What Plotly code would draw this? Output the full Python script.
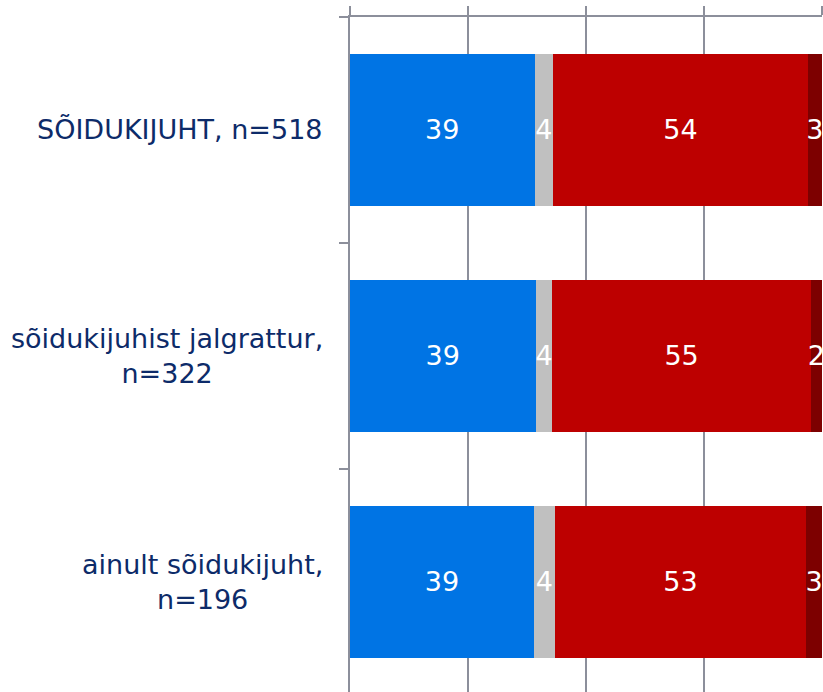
import plotly.graph_objects as go

categories = ["SÕIDUKIJUHT, n=518",
              "sõidukijuhist jalgrattur,<br>n=322",
              "ainult sõidukijuht,<br>n=196"]
series = ["s1", "s2", "s3", "s4"]
values = {
    "s1": [39.1, 39.3, 39.0],
    "s2": [3.9, 3.6, 4.4],
    "s3": [54.0, 54.7, 53.2],
    "s4": [3.0, 2.4, 3.4],
}
colors = {"s1": "#0074e4", "s2": "#c0c0c0", "s3": "#bd0000", "s4": "#7d0000"}
x_ticks = [0, 25, 50, 75, 100]

font_family = "DejaVu Sans"
navy = "#0d2b69"
line_gray = "#8c8f9b"

ypos = list(range(len(categories)))
# category separators for the y ticks
y_bounds = [i - 0.5 for i in range(len(categories) + 1)]

fig = go.Figure()
for s in series:
    fig.add_trace(go.Bar(
        x=values[s], y=ypos, orientation="h",
        marker=dict(color=colors[s], line=dict(width=0)),
        texttemplate="%{x:.0f}", textposition="inside",
        insidetextanchor="middle", constraintext="none", textangle=0,
        textfont=dict(family=font_family, size=27, color="white"),
        showlegend=False, cliponaxis=False,
    ))

for i, c in enumerate(categories):
    fig.add_annotation(x=-0.053, xref="paper", xanchor="right",
                       y=i, yref="y", text=c, showarrow=False, align="center",
                       font=dict(family=font_family, size=27, color=navy))

fig.update_layout(
    barmode="stack", bargap=0.33,
    width=823, height=692,
    margin=dict(l=350, r=1, t=17, b=0),
    paper_bgcolor="white", plot_bgcolor="rgba(0,0,0,0)",
    xaxis=dict(range=[0, 100], side="top", tickvals=x_ticks,
               showticklabels=False, ticks="outside", ticklen=9,
               tickwidth=2, tickcolor=line_gray,
               showgrid=True, gridcolor=line_gray, gridwidth=2,
               showline=True, linecolor=line_gray, linewidth=2,
               zeroline=False),
    yaxis=dict(range=[2.487, -0.5], tickvals=y_bounds,
               showticklabels=False, ticks="outside", ticklen=9,
               tickwidth=2, tickcolor=line_gray,
               showgrid=False, showline=True, linecolor=line_gray,
               linewidth=2, zeroline=False),
)

# page body has a default 8px margin; drop it so the figure sits at 0,0
fig.write_html("out.html", config={"displayModeBar": False},
               post_script="document.body.style.margin='0';"
                           "document.body.style.overflow='hidden';")
